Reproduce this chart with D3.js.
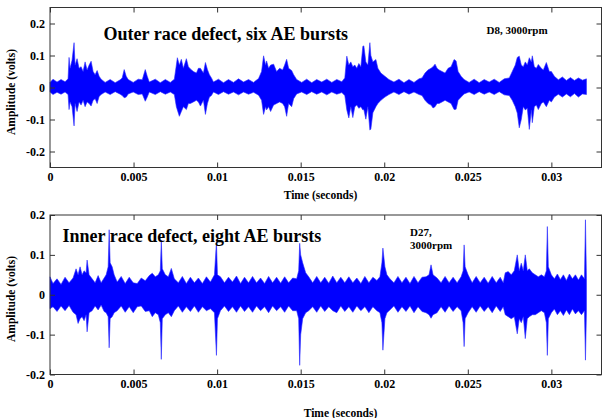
<!doctype html>
<html lang="en">
<head>
	<meta charset="UTF-8">
	<title>AE bursts</title>
	<style>
		body { margin: 0; background: #fff; }
		svg text { font-family: "Liberation Serif", "Times New Roman", serif; font-weight: bold; fill: #000; }
	</style>
</head>
<body>
	<script src="https://cdn.jsdelivr.net/npm/d3@7"></script>
	<script>
		// time ticks shared by both panels
		var xTicks = [0, 0.005, 0.01, 0.015, 0.02, 0.025, 0.03],
			xTickLabels = ['0', '0.005', '0.01', '0.015', '0.02', '0.025', '0.03'];

		var yTicks = [-0.2, -0.1, 0, 0.1, 0.2],
			yTickLabels = ['-0.2', '-0.1', '0', '0.1', '0.2'];

		// outer race signal, envelope (seconds, volts)
		var topTime = [0, .00018, .00042, .00066, .0009, .00108, .00114, .0012, .00132, .00144, .0015, .00162, .00174, .00186, .00198, .0021, .00222, .00234, .00246, .00258, .0027, .00282, .00294, .00306, .0033, .0036, .0039, .0042, .00432, .00444, .00456, .00468, .00498, .00528, .00552, .0057, .00582, .00594, .0063, .0066, .0069, .0072, .00744, .00756, .00762, .00774, .00786, .00798, .00816, .00828, .0084, .00858, .00876, .00888, .009, .00918, .0093, .00942, .00954, .00966, .00978, .01008, .01038, .01068, .01098, .01128, .01158, .01188, .01218, .01248, .01266, .01278, .0129, .01296, .01308, .0132, .01338, .01356, .01374, .01392, .01404, .01416, .01428, .01446, .01458, .01476, .01506, .01536, .01566, .01596, .01626, .01656, .01686, .01716, .01746, .01764, .01776, .01788, .018, .01812, .01824, .01836, .01848, .0186, .01872, .01878, .0189, .01902, .01914, .0192, .01932, .0195, .01962, .0198, .02004, .02028, .02058, .02088, .02118, .02148, .02178, .02208, .02226, .02244, .02262, .0228, .02292, .02304, .02316, .02328, .02346, .02364, .02382, .024, .02418, .0243, .02442, .0246, .02478, .02508, .02538, .02568, .02598, .02628, .02658, .02688, .02718, .02748, .02766, .02784, .02796, .02808, .0282, .02832, .02844, .02856, .02868, .0288, .02886, .02898, .0291, .02922, .0294, .02952, .0297, .02988, .03, .03018, .03042, .03066, .0309, .03114, .03138, .03162, .03186, .0321];
		var topHigh = [.016, .026, .017, .025, .018, .027, .094, .06, .085, .14, .07, .09, .06, .065, .05, .08, .055, .07, .082, .05, .04, .053, .035, .026, .016, .025, .015, .024, .03, .056, .035, .025, .016, .026, .024, .056, .035, .017, .026, .015, .025, .016, .026, .07, .093, .07, .088, .06, .09, .065, .058, .05, .045, .06, .06, .045, .078, .056, .04, .03, .017, .026, .015, .025, .016, .027, .017, .025, .016, .028, .05, .099, .07, .083, .06, .07, .073, .05, .06, .055, .07, .088, .06, .053, .04, .025, .016, .026, .015, .025, .017, .026, .016, .025, .018, .03, .098, .07, .08, .065, .07, .06, .075, .065, .129, .13, .08, .07, .14, .1, .08, .0875, .06, .045, .035, .025, .017, .026, .015, .025, .016, .027, .03, .045, .055, .06, .065, .073, .06, .055, .05, .045, .06, .065, .0875, .083, .05, .035, .025, .016, .026, .015, .025, .017, .026, .016, .027, .03, .05, .07, .094, .098, .07, .065, .08, .07, .093, .08, .099, .065, .06, .072, .06, .055, .078, .05, .05, .035, .024, .033, .022, .031, .022, .03, .023, .027];
		var topLow = [-.014, -.022, -.015, -.021, -.014, -.022, -.069, -.045, -.06, -.12, -.05, -.075, -.045, -.055, -.04, -.06, -.045, -.05, -.058, -.04, -.035, -.05, -.028, -.022, -.014, -.022, -.013, -.021, -.025, -.032, -.03, -.02, -.014, -.022, -.02, -.043, -.03, -.014, -.022, -.013, -.021, -.014, -.022, -.06, -.07, -.09, -.075, -.06, -.069, -.05, -.05, -.045, -.04, -.045, -.058, -.04, -.084, -.05, -.03, -.025, -.014, -.022, -.013, -.021, -.014, -.023, -.014, -.021, -.015, -.024, -.04, -.084, -.06, -.07, -.06, -.075, -.055, -.05, -.045, -.05, -.06, -.09, -.05, -.06, -.035, -.02, -.014, -.022, -.013, -.021, -.014, -.023, -.014, -.021, -.016, -.025, -.07, -.095, -.06, -.094, -.06, -.055, -.065, -.06, -.07, -.069, -.099, -.06, -.133, -.13, -.079, -.06, -.05, -.04, -.03, -.022, -.014, -.022, -.013, -.021, -.014, -.022, -.025, -.04, -.05, -.055, -.064, -.06, -.05, -.05, -.045, -.04, -.045, -.05, -.069, -.068, -.04, -.03, -.02, -.014, -.022, -.013, -.021, -.014, -.022, -.013, -.023, -.025, -.04, -.06, -.08, -.126, -.1, -.06, -.07, -.065, -.131, -.07, -.11, -.06, -.055, -.069, -.05, -.045, -.06, -.04, -.045, -.03, -.021, -.03, -.02, -.029, -.019, -.03, -.02, -.022];

		// inner race signal
		var bottomTime = [0, .00018, .00042, .00066, .0009, .00114, .00138, .00156, .00168, .0018, .00192, .00204, .00216, .00222, .00234, .00252, .0027, .00288, .00306, .00324, .00336, .00348, .00354, .0036, .00372, .00384, .00402, .00426, .0045, .00474, .00498, .00522, .00546, .0057, .00594, .00612, .0063, .00648, .0066, .00666, .00672, .0069, .00708, .00726, .00744, .00768, .00792, .00816, .0084, .00864, .00888, .00912, .00936, .0096, .00984, .00996, .01002, .0102, .01044, .01068, .01092, .01116, .0114, .01164, .01188, .01212, .01236, .0126, .01284, .01308, .01332, .01356, .0138, .01404, .01428, .01452, .01476, .01488, .01494, .015, .01512, .0153, .01548, .01572, .01596, .0162, .01644, .01668, .01692, .01716, .0174, .01764, .01788, .01812, .01836, .0186, .01884, .01908, .01932, .01956, .01974, .01986, .01992, .02004, .02016, .02034, .02058, .02082, .02106, .0213, .02154, .02178, .02202, .02226, .0225, .02268, .0228, .02292, .02316, .0234, .02364, .02388, .02412, .02436, .0246, .02472, .02478, .02484, .02502, .02526, .0255, .02574, .02598, .02622, .02646, .0267, .02694, .02712, .02724, .02742, .0276, .02778, .02796, .02808, .0282, .02832, .02844, .02856, .02868, .02886, .02904, .02922, .0294, .02958, .0297, .02976, .02982, .03, .03018, .03036, .03054, .03072, .0309, .03108, .03126, .03144, .03162, .0318, .03198, .03204, .0321];
		var bottomHigh = [.045, .028, .04, .026, .044, .03, .042, .065, .05, .07, .05, .06, .055, .087, .05, .04, .03, .048, .03, .042, .05, .07, .163, .08, .07, .05, .032, .046, .028, .044, .03, .028, .042, .035, .048, .054, .045, .05, .06, .137, .065, .05, .045, .066, .04, .03, .046, .028, .044, .03, .042, .028, .045, .032, .05, .133, .05, .045, .03, .044, .032, .047, .028, .044, .03, .046, .03, .042, .028, .046, .03, .044, .029, .045, .03, .042, .04, .06, .129, .1, .08, .055, .045, .03, .046, .03, .044, .029, .047, .03, .044, .03, .045, .03, .042, .028, .046, .03, .044, .036, .045, .08, .117, .07, .05, .04, .03, .046, .03, .044, .028, .046, .03, .044, .045, .05, .075, .05, .042, .03, .046, .03, .044, .03, .045, .06, .125, .07, .05, .03, .046, .03, .044, .029, .046, .03, .044, .03, .055, .058, .05, .06, .1, .06, .079, .06, .1, .06, .065, .055, .05, .045, .05, .045, .06, .171, .07, .05, .04, .052, .038, .05, .036, .052, .04, .05, .037, .05, .04, .188, .04];
		var bottomLow = [-.035, -.03, -.042, -.028, -.04, -.027, -.044, -.05, -.072, -.06, -.055, -.065, -.05, -.093, -.045, -.04, -.028, -.038, -.026, -.042, -.045, -.055, -.133, -.06, -.055, -.045, -.04, -.028, -.044, -.03, -.045, -.03, -.028, -.042, -.04, -.055, -.045, -.05, -.07, -.162, -.06, -.05, -.045, -.055, -.04, -.028, -.044, -.03, -.042, -.028, -.044, -.03, -.04, -.035, -.045, -.152, -.06, -.04, -.028, -.042, -.03, -.044, -.028, -.042, -.03, -.044, -.028, -.04, -.03, -.045, -.028, -.04, -.03, -.044, -.028, -.04, -.04, -.06, -.177, -.1, -.06, -.045, -.04, -.03, -.044, -.028, -.042, -.03, -.04, -.045, -.028, -.042, -.03, -.044, -.028, -.04, -.03, -.045, -.03, -.04, -.045, -.07, -.139, -.06, -.045, -.038, -.028, -.044, -.03, -.042, -.028, -.045, -.03, -.042, -.045, -.05, -.059, -.05, -.045, -.03, -.044, -.028, -.042, -.03, -.04, -.07, -.13, -.06, -.045, -.03, -.044, -.028, -.042, -.03, -.045, -.028, -.042, -.03, -.05, -.055, -.06, -.055, -.098, -.06, -.07, -.055, -.11, -.06, -.055, -.05, -.05, -.045, -.04, -.045, -.07, -.152, -.06, -.045, -.036, -.05, -.04, -.052, -.038, -.05, -.036, -.048, -.04, -.05, -.04, -.164, -.04];

		var w = 607,
			h = 418;

		var svg = d3.select('body')
				.append('svg')
				.attr('width', w)
				.attr('height', h);

		var x = d3.scaleLinear().domain([0, 0.033]).range([50, 601.5]);

		function panel(time, high, low, yDomain, yRange, opts) {
			var y = d3.scaleLinear().domain(yDomain).range(yRange);
			var g = svg.append('g');

			var area = d3.area()
				.x(function(d, i) { return x(time[i]); })
				.y0(function(d, i) { return y(low[i]); })
				.y1(function(d, i) { return y(high[i]); });

			g.append('path')
				.datum(time)
				.attr('d', area)
				.attr('fill', '#0000ff')
				.attr('stroke', '#2a2aff')
				.attr('stroke-width', 0.6);

			var bottomAxis = d3.axisBottom(x)
				.tickValues(xTicks)
				.tickSizeInner(-5)
				.tickSizeOuter(0)
				.tickPadding(5)
				.tickFormat(function(d, i) { return xTickLabels[i]; });
			var topAxis = d3.axisTop(x).tickValues(xTicks).tickSizeInner(-5).tickSizeOuter(0).tickFormat('');
			var leftAxis = d3.axisLeft(y)
				.tickValues(yTicks)
				.tickSizeInner(-5)
				.tickSizeOuter(0)
				.tickPadding(5)
				.tickFormat(function(d, i) { return yTickLabels[i]; });
			var rightAxis = d3.axisRight(y).tickValues(yTicks).tickSizeInner(-5).tickSizeOuter(0).tickFormat('');

			var axes = [
				[bottomAxis, 'translate(0,' + yRange[0] + ')'],
				[topAxis, 'translate(0,' + yRange[1] + ')'],
				[leftAxis, 'translate(' + x.range()[0] + ',0)'],
				[rightAxis, 'translate(' + x.range()[1] + ',0)']
			];
			axes.forEach(function(a) {
				var ag = g.append('g').attr('transform', a[1]).call(a[0]);
				ag.select('.domain').remove();
				ag.selectAll('line').attr('stroke', '#333');
				ag.selectAll('text')
					.attr('font-family', null)
					.style('font-size', '12px');
			});

			g.append('rect')
				.attr('x', x.range()[0])
				.attr('y', yRange[1])
				.attr('width', x.range()[1] - x.range()[0])
				.attr('height', yRange[0] - yRange[1])
				.attr('fill', 'none')
				.attr('stroke', '#333')
				.attr('stroke-width', 1);

			g.append('text')
				.attr('x', opts.titleX)
				.attr('y', opts.titleY)
				.style('font-size', '18px')
				.text(opts.title);

			opts.note.forEach(function(line, i) {
				g.append('text')
					.attr('x', opts.noteX)
					.attr('y', opts.noteY + i * 13)
					.style('font-size', '11px')
					.text(line);
			});

			g.append('text')
				.attr('transform', 'translate(15,' + opts.yLabelY + ') rotate(-90)')
				.attr('text-anchor', 'middle')
				.style('font-size', '11.5px')
				.text('Amplitude (volts)');

			g.append('text')
				.attr('x', opts.xLabelX)
				.attr('y', opts.xLabelY)
				.attr('text-anchor', 'middle')
				.style('font-size', '11.5px')
				.text('Time (seconds)');
		}

		panel(topTime, topHigh, topLow, [-0.25, 0.25], [167.5, 7.5], {
			title: 'Outer race defect, six AE bursts', titleX: 103.5, titleY: 40,
			note: ['D8, 3000rpm'], noteX: 486.5, noteY: 34,
			yLabelY: 92, xLabelX: 320.5, xLabelY: 199
		});

		panel(bottomTime, bottomHigh, bottomLow, [-0.2, 0.2], [374.5, 215], {
			title: 'Inner race defect, eight AE bursts', titleX: 62.5, titleY: 242,
			note: ['D27,', '3000rpm'], noteX: 410, noteY: 236,
			yLabelY: 299, xLabelX: 340.5, xLabelY: 417
		});
	</script>
</body>
</html>
